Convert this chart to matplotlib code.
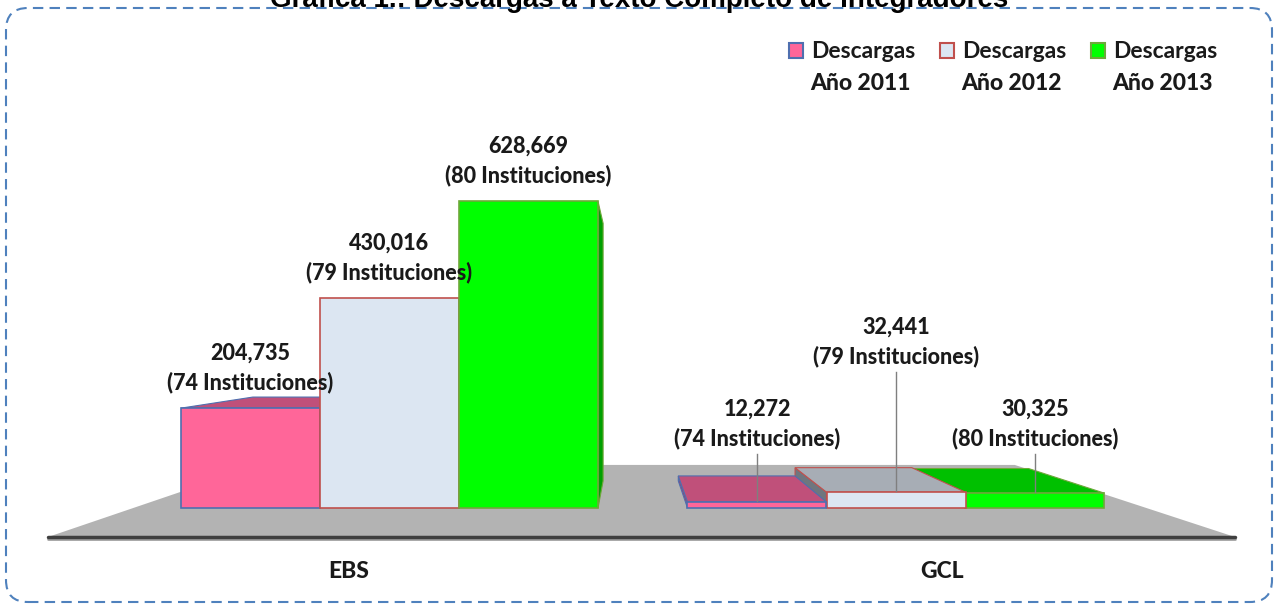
import matplotlib.pyplot as plt
from matplotlib.patches import Polygon, Rectangle, FancyBboxPatch
from matplotlib.transforms import IdentityTransform

# data
categories = ['EBS', 'GCL']
years = ['2011', '2012', '2013']
descargas_2011 = [204735, 12272]
descargas_2012 = [430016, 32441]
descargas_2013 = [628669, 30325]
inst_2011 = [74, 74]
inst_2012 = [79, 79]
inst_2013 = [80, 80]

series = [descargas_2011, descargas_2012, descargas_2013]
insts = [inst_2011, inst_2012, inst_2013]

# styles: front, top, side, edge
face_colors = ['#FF6699', '#DCE6F2', '#00FF00']
top_colors = ['#C0507A', '#A7ADB5', '#00C000']
side_colors = ['#9E4068', '#6F767E', '#00A000']
edge_colors = ['#4F6FAF', '#C0504D', '#6EA83A']

# layout (pixel based)
W, H = 1278, 606
base_px = 508          # row of value 0
val_per_px = 2050
x0_px, unit_px = 389.5, 506.5
bw = 139 / unit_px
vp_x = (630 - x0_px) / unit_px
vp_y = (base_px - 339) * val_per_px
k_bar = 0.84
k_floor = 0.636
label_lift = [[26, 26, 26], [64, 136, 55]]   # px above bar top for label

lab_font = ['Lato', 'DejaVu Sans']
txt_col = '#1A1A1A'

fig = plt.figure(figsize=(W / 100, H / 100), dpi=100)
ax = fig.add_axes([0, 0, 1, 1])
ax.set_xlim(-x0_px / unit_px, (W - x0_px) / unit_px)
ax.set_ylim(-(H - base_px) * val_per_px, base_px * val_per_px)
ax.axis('off')


def proj(x, y, k):
    return vp_x + (x - vp_x) * k, vp_y + (y - vp_y) * k


# floor
fy = -(537 - base_px) * val_per_px
fx0, fx1 = (48 - x0_px) / unit_px, (1235 - x0_px) / unit_px
floor = [(fx0, fy), (fx1, fy), proj(fx1, fy, k_floor), proj(fx0, fy, k_floor)]
ax.add_patch(Polygon(floor, closed=True, facecolor='#B3B3B3', edgecolor='none'))
ax.plot([fx0, fx1], [fy - 2 * val_per_px] * 2, color='#A0A0A0', lw=2, solid_capstyle='round')
ax.plot([fx0, fx1], [fy, fy], color='#3F3F3F', lw=2.5, solid_capstyle='round')


def bar3d(xc, h, j):
    x0, x1 = xc - bw / 2, xc + bw / 2
    front = [(x0, 0), (x1, 0), (x1, h), (x0, h)]
    back = [proj(x, y, k_bar) for x, y in front]
    ec = edge_colors[j]
    if x1 < vp_x:
        ax.add_patch(Polygon([front[1], front[2], back[2], back[1]],
                             facecolor=side_colors[j], edgecolor=ec, lw=0.8))
    if x0 > vp_x:
        ax.add_patch(Polygon([front[0], front[3], back[3], back[0]],
                             facecolor=side_colors[j], edgecolor=ec, lw=0.8))
    if h < vp_y:
        ax.add_patch(Polygon([front[3], front[2], back[2], back[3]],
                             facecolor=top_colors[j], edgecolor=ec, lw=0.8))
    ax.add_patch(Rectangle((x0, 0), bw, h, facecolor=face_colors[j],
                           edgecolor=ec, lw=1.2))


bars = []
for g in range(len(categories)):
    for j in range(len(years)):
        xc = g + (j - 1) * bw
        bars.append((abs(xc - vp_x), xc, series[j][g], j, g))
bars.sort(reverse=True)
for _, xc, h, j, g in bars:
    bar3d(xc, h, j)

# value labels
for g in range(len(categories)):
    for j in range(len(years)):
        xc = g + (j - 1) * bw
        h = series[j][g]
        lift = label_lift[g][j]
        y_inst = h + lift * val_per_px
        y_num = y_inst + 29 * val_per_px
        ax.text(xc, y_inst, f'({insts[j][g]} Instituciones)', ha='center', va='center',
                fontsize=15.5, fontweight='black', family=lab_font, color=txt_col)
        ax.text(xc, y_num, f'{h:,}', ha='center', va='center',
                fontsize=15.5, fontweight='black', family=lab_font, color=txt_col)
        if lift > 40:
            ax.plot([xc, xc], [h + 1 * val_per_px, y_inst - 16 * val_per_px],
                    color='#7F7F7F', lw=1)

# category labels at the floor front
s_floor = (fy - vp_y) / (0 - vp_y)
for g, cat in enumerate(categories):
    ax.text(vp_x + (g - vp_x) * s_floor, -(572 - base_px) * val_per_px, cat,
            ha='center', va='center', fontsize=16.5, fontweight='black',
            family=lab_font, color=txt_col)

# legend
for j, yr in enumerate(years):
    lx = 789 + 151 * j
    fig.add_artist(Rectangle((lx / W, 1 - 58 / H), 14 / W, 15 / H, transform=fig.transFigure,
                             facecolor=face_colors[j], edgecolor=edge_colors[j], lw=1.5))
    fig.text((lx + 22) / W, 1 - 51 / H, 'Descargas', ha='left', va='center',
             fontsize=16.5, fontweight='bold', family=lab_font, color=txt_col)
    fig.text((lx + 21) / W, 1 - 83 / H, f'Año {yr}', ha='left', va='center',
             fontsize=16.5, fontweight='black', family=lab_font, color=txt_col)

# title (cut at the top as in the source)
fig.text(0.5, 1 - 7 / H, 'Gráfica 1.: Descargas a Texto Completo de Integradores',
         ha='center', va='baseline', fontsize=20, fontweight='bold',
         family=['Liberation Sans', 'DejaVu Sans'])

# dashed rounded frame
fig.add_artist(FancyBboxPatch((6, 4), W - 12, H - 12,
                              boxstyle='round,pad=0,rounding_size=22',
                              transform=IdentityTransform(), facecolor='none',
                              edgecolor='#4F81BD', lw=1.5, linestyle=(0, (5, 3))))

fig.savefig('out.png', dpi=100)
